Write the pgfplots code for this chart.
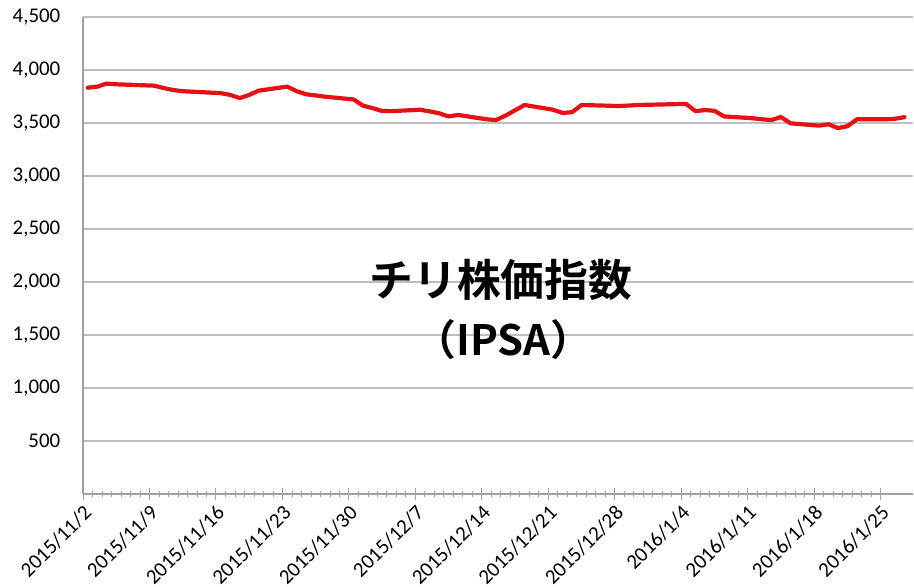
\documentclass[border=0pt]{standalone}
\usepackage{pgfplots}
\pgfplotsset{compat=1.18}
\usepackage{fontspec}
\setmainfont{Carlito}
\newfontfamily\jpfont{Noto Sans CJK JP Bold}
\definecolor{linered}{RGB}{228,18,22}
\definecolor{gridgray}{RGB}{190,190,190}
\definecolor{axisgray}{RGB}{160,160,160}
\begin{document}
\begin{tikzpicture}
\useasboundingbox (0,0) rectangle (914bp,587bp);
\begin{axis}[
  at={(83bp,93bp)}, anchor=south west,
  scale only axis, width=830bp, height=477bp,
  xmin=0, xmax=87.4, ymin=0, ymax=4500,
  axis x line*=bottom, axis y line*=left,
  axis line style={axisgray, line width=1.2bp, -},
  ymajorgrids, grid style={gridgray, line width=1.2bp},
  ytick={500,1000,...,4500},
  ytick style={draw=none},
  xtick={0,7,...,84},
  xticklabels={2015/11/2,2015/11/9,2015/11/16,2015/11/23,2015/11/30,2015/12/7,2015/12/14,2015/12/21,2015/12/28,2016/1/4,2016/1/11,2016/1/18,2016/1/25},
  minor x tick num=6,
  tick align=center,
  major tick length=11bp, minor tick length=5bp,
  x tick style={axisgray, line width=1bp},
  minor x tick style={axisgray, line width=0.8bp},
  /pgf/number format/.cd, 1000 sep={,}, assume math mode=true, /pgfplots/.cd,
  tick label style={font=\fontsize{21}{25}\selectfont, inner sep=0pt},
  yticklabel style={anchor=east, xshift=-17bp},
  xticklabel style={xshift=5bp, yshift=-10bp, rotate=45, anchor=east},
  clip=false,
]
\addplot[linered, line width=4.2bp, line join=round, line cap=round] coordinates {
(0.5,3833) (1.5,3843) (2.5,3872) (3.5,3865) (4.5,3862)
(7.5,3852) (8.5,3830) (9.5,3811) (10.5,3800) (11.5,3795)
(14.5,3782) (15.5,3765) (16.5,3735) (17.5,3765) (18.5,3805)
(21.5,3843) (22.5,3800) (23.5,3771) (24.5,3760) (25.5,3748)
(28.5,3722) (29.5,3663) (30.5,3640) (31.5,3613) (32.5,3612)
(35.5,3625) (36.5,3610) (37.5,3592) (38.5,3562) (39.5,3576)
(42.5,3535) (43.5,3528) (44.5,3570) (45.5,3620) (46.5,3670)
(49.5,3625) (50.5,3595) (51.5,3602) (52.5,3670)
(56.5,3660) (57.5,3665) (58.5,3670) (59.5,3672)
(63.5,3680) (64.5,3612) (65.5,3622) (66.5,3615) (67.5,3562)
(70.5,3545) (71.5,3535) (72.5,3528) (73.5,3556) (74.5,3497)
(77.5,3475) (78.5,3488) (79.5,3452) (80.5,3470) (81.5,3535)
(84.5,3535) (85.5,3540) (86.5,3555)
};
\node[font=\jpfont\fontsize{44}{50}\selectfont, inner sep=0pt] at (axis cs:44,2020) {チリ株価指数};
\node[font=\jpfont\fontsize{42}{50}\selectfont, inner sep=0pt] at (axis cs:44.3,1460) {（IPSA）};
\end{axis}
\end{tikzpicture}
\end{document}
